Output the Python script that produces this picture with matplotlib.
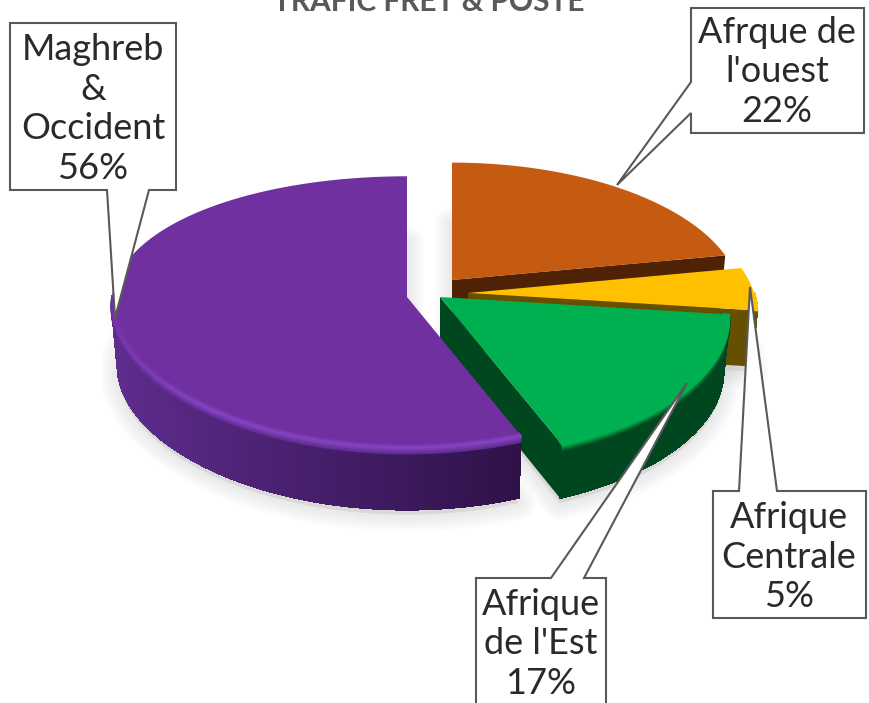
import numpy as np
import matplotlib
matplotlib.use('Agg')
from matplotlib import pyplot as plt
from matplotlib.colors import to_rgb
from matplotlib.collections import PolyCollection, LineCollection
from matplotlib.patches import Polygon

# chart values, clockwise from twelve o'clock
labels = ["Afrque de\nl'ouest", "Afrique\nCentrale", "Afrique\nde l'Est", "Maghreb\n&\nOccident"]
shares = [22, 5, 17, 56]
title = "TRAFIC FRET & POSTE"

top_colors = ['#C55A11', '#FFC000', '#00B050', '#7030A0']
rim_colors = ['#C55A11', '#FFC000', '#00B050', '#8442C0']
side_left = ['#4F2205', '#665000', '#00461F', '#5E2C8E']
side_right = ['#4F2205', '#665000', '#00461F', '#2E1248']

# apex of each slice on screen (pie is exploded)
apex_x = [452, 468, 440, 407]
apex_y = [280, 293, 297, 297]
radius_x = [286, 286, 286, 295]
radius_y = [135, 137, 137, 134]
persp_x = [0.15, 0.15, 0.15, 0.05]
persp_y = [0.15, 0.15, 0.15, 0.11]
depth = [56, 56, 53, 62]
wall_taper = 0.98

# callouts: box left, top, right, bottom, tail base and tip
boxes = [(691, 8, 864, 133), (713, 491, 866, 618), (476, 578, 606, 720), (10, 23, 176, 190)]
tails = [[(691, 82), (617, 185), (691, 113)],
         [(739, 491), (750, 287), (777, 491)],
         [(551, 578), (687, 383), (584, 578)],
         [(107, 190), (115, 318), (149, 190)]]
text_x = [777, 789, 541, 93]
text_y = [72, 557, 644, 109]
line_col = '#595959'


def mix(a, b, t):
    a, b = np.array(to_rgb(a)), np.array(to_rgb(b))
    return tuple(a + (b - a) * t)


def project(i, ang, r=1.0):
    u = np.sin(ang) * r
    v = -np.cos(ang) * r
    return (apex_x[i] + radius_x[i] * u / (1 - persp_x[i] * v),
            apex_y[i] + radius_y[i] * v / (1 - persp_y[i] * v))


def band(px, py, colors, zo):
    segs = np.stack([np.c_[px[:-1], py[:-1]], np.c_[px[1:], py[1:]]], axis=1)
    ax.add_collection(LineCollection(segs, colors=colors, linewidths=1.3, zorder=zo, capstyle='round'))


fig = plt.figure(figsize=(8.69, 7.03), dpi=100)
ax = fig.add_axes([0, 0, 1, 1])
ax.set_xlim(0, 869)
ax.set_ylim(703, 0)
ax.axis('off')

edges = np.cumsum([0] + shares) / sum(shares) * 2 * np.pi

# soft shadow under the pie
for i in range(4):
    ang = np.linspace(edges[i], edges[i + 1], 120)
    x, y = project(i, ang)
    sx = apex_x[i] + (np.r_[apex_x[i], x] - apex_x[i]) * wall_taper
    sy = np.r_[apex_y[i] + depth[i], y + depth[i]] + 5
    for w in [24, 20, 16, 12, 8, 4]:
        ax.add_patch(Polygon(np.c_[sx, sy], closed=True, facecolor='#a0a0a0', edgecolor='#a0a0a0',
                             alpha=0.035, lw=w, joinstyle='round', zorder=1))

# slices back to front
for i in range(4):
    zo = 2 + i
    ang = np.linspace(edges[i], edges[i + 1], 240)
    x, y = project(i, ang)
    low_x = apex_x[i] + (x - apex_x[i]) * wall_taper
    d = depth[i]

    # flat cut face for the slices that show one
    if shares[i] < 50:
        cut_x = [apex_x[i], x[-1], low_x[-1], apex_x[i]]
        cut_y = [apex_y[i], y[-1], y[-1] + d, apex_y[i] + d]
        ax.add_patch(Polygon(np.c_[cut_x, cut_y], closed=True, facecolor=side_right[i],
                             edgecolor='none', zorder=zo))

    # curved outer wall, shaded left to right
    front = np.cos(ang) < 0.0
    quads = []
    cols = []
    for k in range(len(ang) - 1):
        if front[k]:
            quads.append([(x[k], y[k]), (x[k + 1], y[k + 1]), (low_x[k + 1], y[k + 1] + d), (low_x[k], y[k] + d)])
            cols.append(mix(side_left[i], side_right[i], np.clip((x[k] - 112) / 408, 0, 1)))
    ax.add_collection(PolyCollection(quads, facecolors=cols, edgecolors=cols, linewidths=0.8,
                                     antialiaseds=False, zorder=zo))

    # top surface
    ax.add_patch(Polygon(np.r_[[[apex_x[i], apex_y[i]]], np.c_[x, y]], closed=True,
                         facecolor=top_colors[i], edgecolor='none', zorder=zo))

    # bevel, only where the rim faces the viewer, fading out at the sides
    if front.any():
        fa = ang[front]
        fade = np.clip(-np.cos(fa[:-1]) * 1.3, 0, 1)
        fx, fy = x[front], y[front]
        base = side_left[i] if i == 3 else side_right[i]
        for t in np.linspace(1, 0, 7):
            band(fx, fy + t * 6, [mix(mix(base, rim_colors[i], f), base, t) for f in fade], zo)
        for t in np.linspace(1, 0, 7):
            rx, ry = project(i, fa, 1 - 0.02 * t)
            band(rx, ry, [mix(mix(top_colors[i], rim_colors[i], f), top_colors[i], t) for f in fade], zo)

# callouts with labels
for i in range(4):
    l, t, r, b = boxes[i]
    tail = tails[i]
    if i == 0:
        pts = [(l, t), (r, t), (r, b), (l, b), tail[2], tail[1], tail[0]]
    elif i == 3:
        pts = [(l, t), (r, t), (r, b), tail[2], tail[1], tail[0], (l, b)]
    else:
        pts = [(l, t), tail[0], tail[1], tail[2], (r, t), (r, b), (l, b)]
    ax.add_patch(Polygon(pts, closed=True, facecolor='white', edgecolor=line_col, lw=1.5,
                         joinstyle='miter', zorder=10))
    ax.text(text_x[i], text_y[i], labels[i] + "\n%d%%" % shares[i], ha='center', va='center',
            fontsize=26, family='Lato', color='#2a2a2a', linespacing=1.25, zorder=11)

ax.text(429, 11, title, ha='center', va='baseline', fontsize=21.5, fontweight='bold',
        family='Lato', color='#595959', zorder=11)

fig.savefig('out.png', dpi=100)
